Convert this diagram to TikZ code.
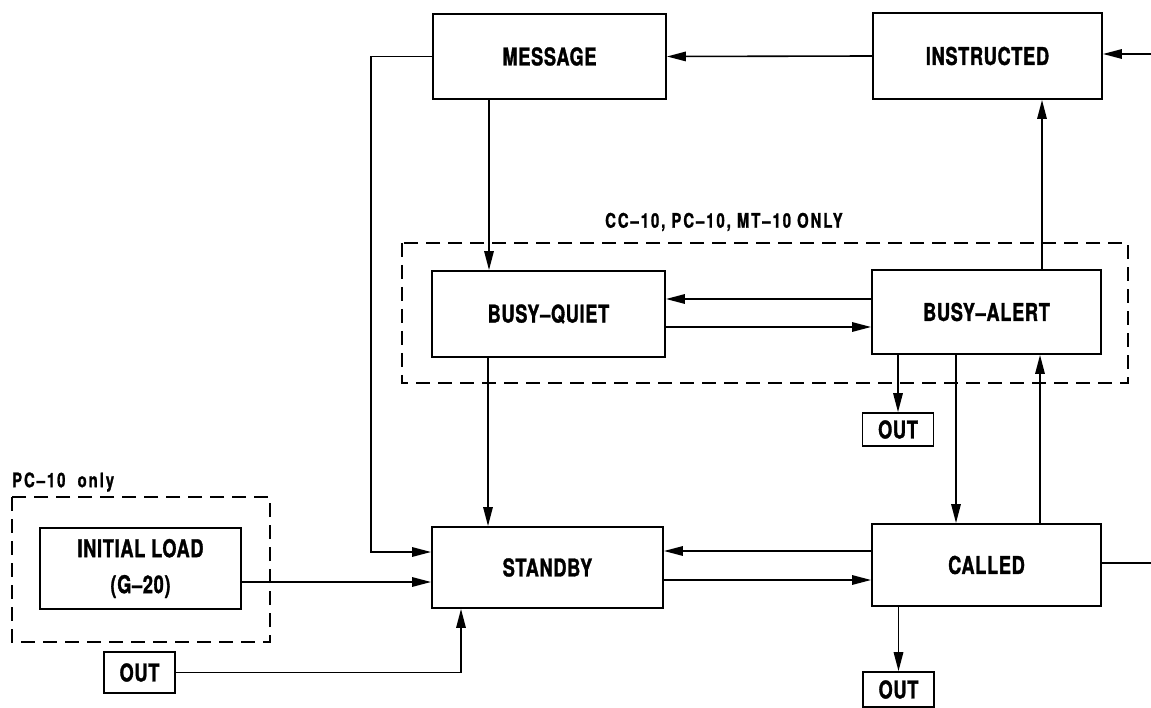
\documentclass[tikz,border=0pt]{standalone}
\usepackage{fontspec}
\newfontfamily\diag[FakeStretch=0.74,LetterSpace=3,BoldFeatures={FakeBold=1.3}]{TeX Gyre Heros}
\newfontfamily\lbl[FakeStretch=0.74,LetterSpace=10,BoldFeatures={FakeBold=1.2}]{TeX Gyre Heros}
\usetikzlibrary{arrows.meta}
\begin{document}
\begin{tikzpicture}[x=1pt,y=-1pt,
  box/.style={draw,line width=1.9pt,fill=white,inner sep=0pt,align=center,
     font=\diag\bfseries\fontsize{24.5}{36}\selectfont},
  outbox/.style={box,line width=1.7pt,minimum width=71pt},
  conn/.style={line width=1.6pt},
  arr/.style={conn,-{Triangle[length=19pt,width=9.5pt]}},
  grp/.style={draw,line width=1.5pt,dash pattern=on 14pt off 8pt},
  glabel/.style={font=\lbl\bfseries\fontsize{20}{22}\selectfont,inner sep=0pt,anchor=west}]
\useasboundingbox (0,0) rectangle (1151,708);
\fill[white] (0,0) rectangle (1151,708);
% groups
\draw[grp] (402,243) rectangle (1128,383);
\draw[grp] (12,497) rectangle (270,642);
\node[glabel] (lblA) at (605,222) {CC–10, PC–10, MT–10 ONLY};
\node[glabel] (lblB) at (12,482) {PC–10 \ only};
% boxes
\node[box,minimum width=233pt,minimum height=85pt] (msg) at (549.5,56.5) {MESSAGE};
\node[box,minimum width=229pt,minimum height=86pt] (ins) at (987.5,56) {INSTRUCTED};
\node[box,minimum width=233pt,minimum height=86pt] (bq) at (548.5,314) {BUSY–QUIET};
\node[box,minimum width=229pt,minimum height=84pt] (ba) at (986.5,312) {BUSY–ALERT};
\node[box,minimum width=231pt,minimum height=81pt] (sb) at (547.5,567.5) {STANDBY};
\node[box,minimum width=229pt,minimum height=82pt] (cal) at (986.5,565) {CALLED};
\node[box,minimum width=201pt,minimum height=81pt] (il) at (140.5,568.5) {INITIAL LOAD\\(G–20)};
\node[outbox,minimum height=41pt] (out1) at (139.5,672.5) {OUT};
\node[outbox,minimum height=33pt] (out2) at (898,429.5) {OUT};
\node[outbox,minimum height=35pt] (out3) at (898.5,689.5) {OUT};
\coordinate (inR) at (1151,54);
\coordinate (outR) at (1151,563);
% connectors
\draw[arr] (ins.west) -- (msg.east);
\draw[arr] (inR) -- (ins.east |- inR);
\draw[arr] (msg.west) -- ++(-61,0) |- ([yshift=15.5pt]sb.west);
\draw[arr] ([xshift=-60.5pt]msg.south) -- ([xshift=-60.5pt]msg.south |- bq.north);
\draw[arr] ([yshift=13pt]ba.west) -- ([yshift=13pt]ba.west -| bq.east);
\draw[arr] ([yshift=-13pt]bq.east) -- ([yshift=-13pt]bq.east -| ba.west);
\draw[arr] ([xshift=55.5pt]ba.north) -- ([xshift=55.5pt]ba.north |- ins.south);
\draw[arr] (out2.north |- ba.south) -- (out2.north);
\draw[arr] ([xshift=-30.5pt]ba.south) -- ([xshift=-30.5pt]ba.south |- cal.north);
\draw[arr] ([xshift=53.5pt]cal.north) -- ([xshift=53.5pt]cal.north |- ba.south);
\draw[arr] ([xshift=-60.5pt]bq.south) -- ([xshift=-60.5pt]bq.south |- sb.north);
\draw[arr] ([yshift=14pt]cal.west) -- ([yshift=14pt]cal.west -| sb.east);
\draw[arr] ([yshift=-15pt]cal.west -| sb.east) -- ([yshift=-15pt]cal.west);
\draw[arr] ([yshift=-13.5pt]il.east) -- ([yshift=-13.5pt]il.east -| sb.west);
\draw[arr] (out1.east) -| ([xshift=-86.5pt]sb.south);
\draw[conn] (cal.east |- outR) -- (outR);
\draw[arr] (out3.north |- cal.south) -- (out3.north);
\end{tikzpicture}
\end{document}
